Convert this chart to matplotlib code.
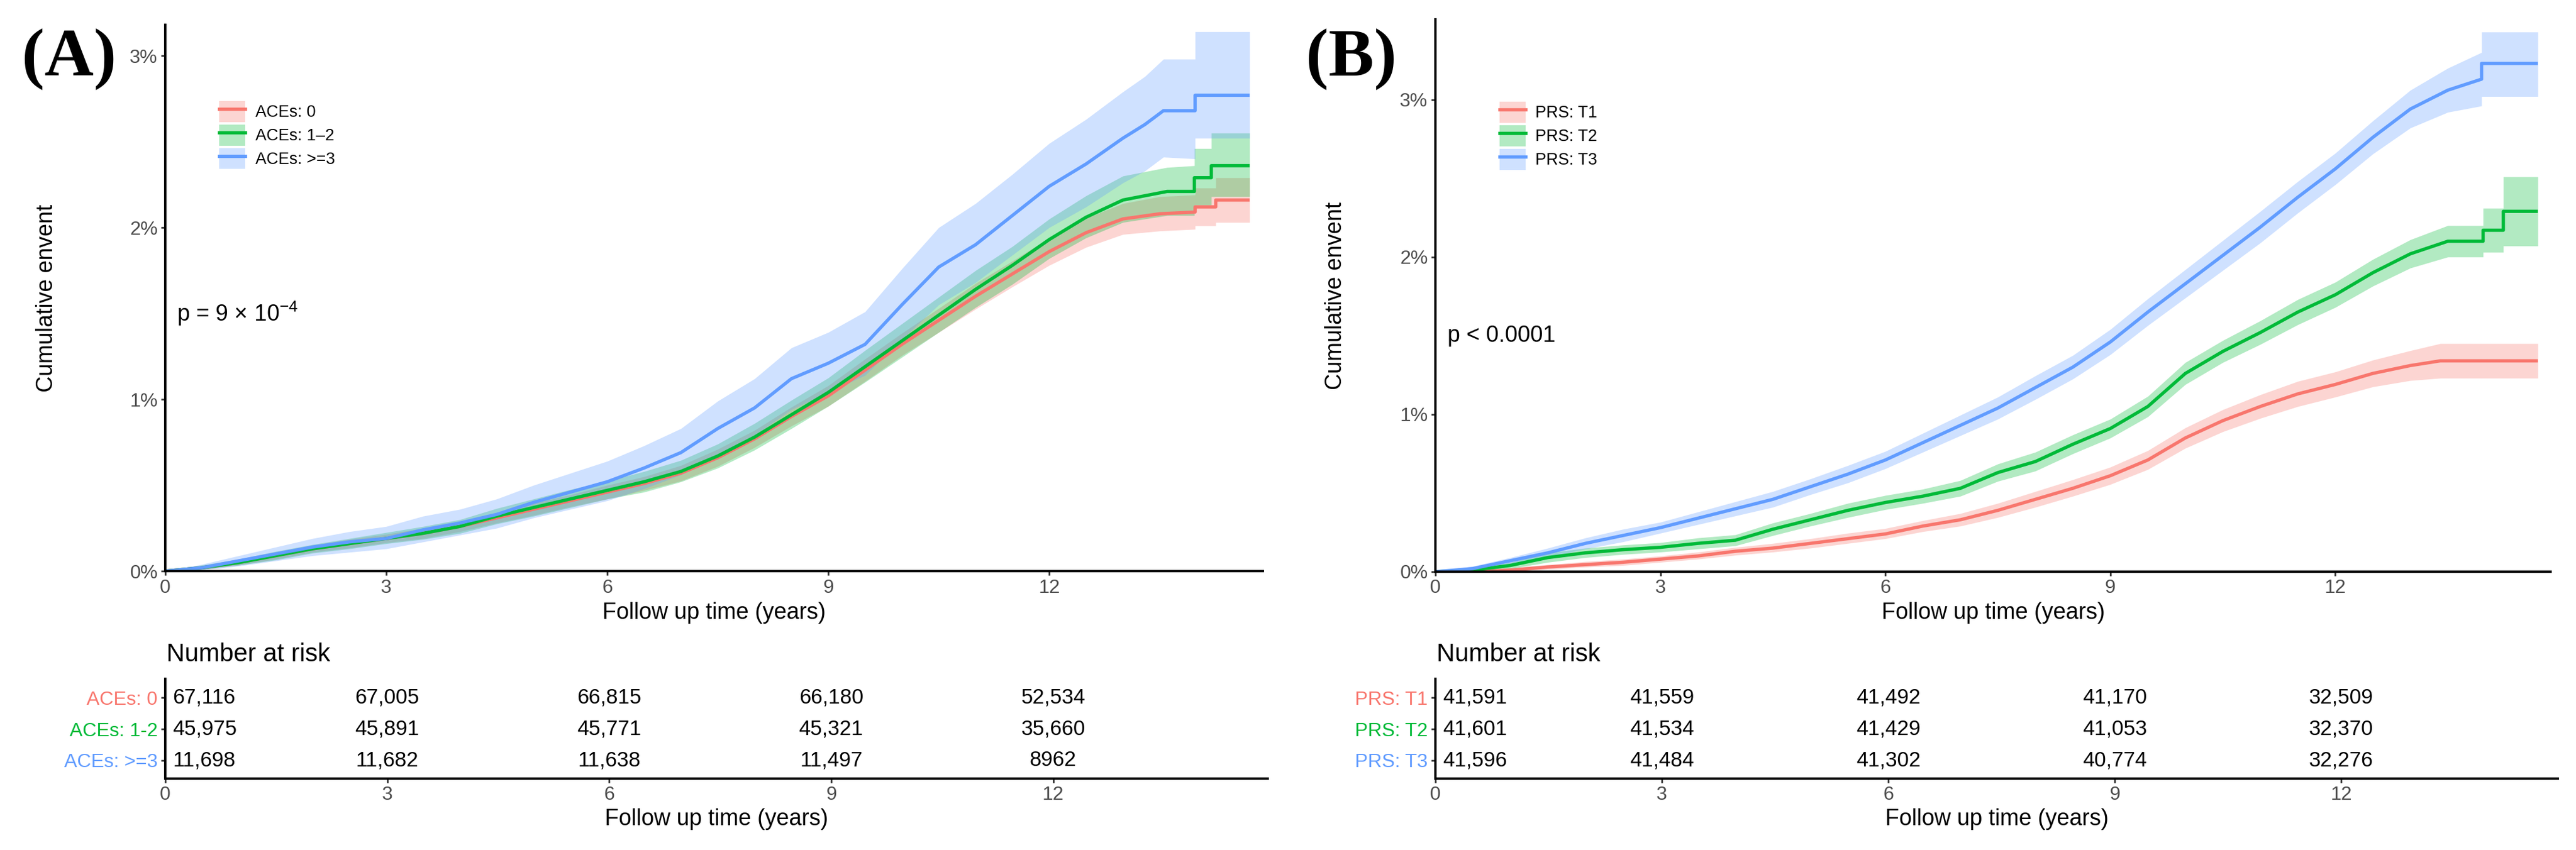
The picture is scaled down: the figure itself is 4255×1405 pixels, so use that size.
import matplotlib
matplotlib.use("Agg")
import matplotlib.pyplot as plt
from matplotlib.patches import Patch
from matplotlib.lines import Line2D
import matplotlib.transforms as mtransforms

plt.rcParams['font.family'] = ['Liberation Sans', 'DejaVu Sans']
plt.rcParams['mathtext.fontset'] = 'custom'
plt.rcParams['mathtext.rm'] = 'Liberation Sans'
plt.rcParams['mathtext.it'] = 'Liberation Sans:italic'
plt.rcParams['mathtext.bf'] = 'Liberation Sans:bold'

# ---------------- data ----------------
colors = ['#F8766D', '#00BA38', '#619CFF']
x_ticks = [0, 3, 6, 9, 12]
y_ticks = [0, 1, 2, 3]
y_tick_labels = ['0%', '1%', '2%', '3%']

base_t = [0, 0.5, 1, 1.5, 2, 2.5, 3, 3.5, 4, 4.5, 5, 5.5, 6, 6.5, 7, 7.5, 8, 8.5,
          9, 9.5, 10, 10.5, 11, 11.5, 12, 12.5, 13]

# Panel A: ACEs
A_labels = ['ACEs: 0', 'ACEs: 1\u20132', 'ACEs: >=3']
A_table_labels = ['ACEs: 0', 'ACEs: 1-2', 'ACEs: >=3']

A0_time = base_t + [13.5, 13.98, 13.98, 14.26, 14.26, 14.72]
A0_est = [0, .02, .05, .09, .13, .16, .19, .22, .26, .31, .36, .41, .46, .51, .57, .66, .77, .90,
          1.02, 1.17, 1.32, 1.46, 1.60, 1.73, 1.86, 1.97, 2.05, 2.08, 2.09, 2.12, 2.12, 2.16, 2.16]
A0_low = [0, .01, .035, .07, .11, .135, .165, .19, .23, .28, .325, .375, .42, .47, .525, .61, .72, .845,
          .96, 1.105, 1.255, 1.39, 1.525, 1.655, 1.78, 1.885, 1.96, 1.98, 1.99, 2.01, 2.01, 2.03, 2.03]
A0_up = [0, .03, .065, .11, .15, .185, .215, .25, .29, .34, .395, .445, .50, .55, .615, .71, .82, .955,
         1.08, 1.235, 1.385, 1.53, 1.675, 1.805, 1.94, 2.055, 2.14, 2.18, 2.19, 2.23, 2.23, 2.29, 2.29]

A1_time = base_t + [13.6, 13.97, 13.97, 14.2, 14.2, 14.72]
A1_est = [0, .02, .05, .09, .13, .16, .19, .22, .26, .32, .37, .42, .47, .52, .58, .67, .78, .91,
          1.04, 1.19, 1.34, 1.49, 1.64, 1.78, 1.93, 2.06, 2.16, 2.21, 2.21, 2.29, 2.29, 2.36, 2.36]
A1_low = [0, .01, .035, .065, .105, .13, .16, .185, .22, .275, .32, .37, .42, .46, .52, .60, .705, .83,
          .96, 1.10, 1.245, 1.39, 1.535, 1.67, 1.82, 1.94, 2.03, 2.07, 2.07, 2.13, 2.13, 2.18, 2.18]
A1_up = [0, .035, .07, .115, .155, .19, .225, .26, .30, .365, .42, .475, .525, .58, .645, .74, .86, .995,
         1.125, 1.285, 1.44, 1.595, 1.75, 1.89, 2.05, 2.185, 2.30, 2.35, 2.36, 2.46, 2.46, 2.55, 2.55]

A2_time = base_t + [13.3, 13.55, 13.98, 13.98, 14.72]
A2_est = [0, .02, .06, .10, .14, .17, .19, .24, .28, .33, .40, .46, .52, .60, .69, .83, .95, 1.12,
          1.21, 1.32, 1.55, 1.77, 1.90, 2.07, 2.24, 2.37, 2.52, 2.60, 2.68, 2.68, 2.77, 2.77]
A2_low = [0, .005, .03, .06, .09, .11, .13, .17, .21, .25, .31, .36, .41, .48, .56, .68, .79, .94,
          1.04, 1.14, 1.35, 1.55, 1.68, 1.84, 2.00, 2.12, 2.26, 2.33, 2.41, 2.40, 2.52, 2.52]
A2_up = [0, .04, .09, .14, .19, .23, .26, .32, .36, .42, .50, .57, .64, .73, .83, .99, 1.12, 1.30,
         1.39, 1.51, 1.76, 2.00, 2.14, 2.31, 2.49, 2.63, 2.79, 2.88, 2.98, 2.98, 3.14, 3.14]

A_risk = [[67116, 67005, 66815, 66180, 52534],
          [45975, 45891, 45771, 45321, 35660],
          [11698, 11682, 11638, 11497, 8962]]
A_p = 'p = 9 \u00d7 10$^{-4}$'

# Panel B: PRS
B_labels = ['PRS: T1', 'PRS: T2', 'PRS: T3']
B_table_labels = ['PRS: T1', 'PRS: T2', 'PRS: T3']

B0_time = base_t + [13.4, 14.7]
B0_est = [0, .00, .01, .03, .045, .06, .08, .10, .13, .15, .18, .21, .24, .29, .33, .39, .46, .53,
          .61, .71, .85, .96, 1.05, 1.13, 1.19, 1.26, 1.31, 1.34, 1.34]
B0_low = [0, .00, .00, .015, .03, .04, .06, .08, .105, .125, .15, .18, .21, .255, .29, .345, .41, .48,
          .555, .65, .785, .89, .975, 1.05, 1.11, 1.175, 1.215, 1.23, 1.23]
B0_up = [0, .01, .025, .045, .065, .08, .10, .125, .155, .18, .21, .245, .275, .325, .37, .435, .51, .585,
         .665, .77, .915, 1.03, 1.125, 1.21, 1.27, 1.345, 1.405, 1.45, 1.45]

B1_time = base_t + [13.5, 13.97, 13.97, 14.24, 14.24, 14.7]
B1_est = [0, .01, .04, .09, .12, .14, .155, .18, .20, .27, .33, .39, .44, .48, .53, .63, .70, .81,
          .91, 1.05, 1.26, 1.40, 1.52, 1.65, 1.76, 1.90, 2.02, 2.10, 2.10, 2.17, 2.17, 2.29, 2.29]
B1_low = [0, .00, .02, .06, .09, .11, .125, .145, .165, .23, .29, .345, .395, .435, .48, .575, .64, .75,
          .85, .985, 1.19, 1.33, 1.445, 1.57, 1.68, 1.815, 1.93, 2.00, 2.00, 2.03, 2.03, 2.07, 2.07]
B1_up = [0, .02, .06, .12, .15, .17, .185, .215, .235, .31, .37, .435, .485, .525, .58, .685, .76, .87,
         .97, 1.115, 1.33, 1.47, 1.595, 1.73, 1.84, 1.985, 2.11, 2.20, 2.20, 2.31, 2.31, 2.51, 2.51]

B2_time = base_t + [13.5, 13.95, 13.95, 14.7]
B2_est = [0, .02, .07, .12, .18, .23, .28, .34, .40, .46, .54, .62, .71, .82, .93, 1.04, 1.17, 1.30,
          1.46, 1.65, 1.83, 2.01, 2.19, 2.38, 2.56, 2.76, 2.94, 3.06, 3.13, 3.23, 3.23]
B2_low = [0, .005, .05, .09, .145, .19, .245, .30, .355, .41, .49, .565, .655, .76, .865, .97, 1.095, 1.225,
          1.38, 1.565, 1.74, 1.915, 2.09, 2.28, 2.46, 2.655, 2.82, 2.92, 2.96, 3.02, 3.02]
B2_up = [0, .035, .09, .15, .215, .27, .315, .38, .445, .51, .59, .675, .765, .88, .995, 1.11, 1.245, 1.375,
         1.54, 1.735, 1.92, 2.105, 2.29, 2.48, 2.66, 2.865, 3.06, 3.20, 3.30, 3.43, 3.43]

B_risk = [[41591, 41559, 41492, 41170, 32509],
          [41601, 41534, 41429, 41053, 32370],
          [41596, 41484, 41302, 40774, 32276]]
B_p = 'p < 0.0001'

# ---------------- figure ----------------
W, H = 4255, 1405
DPI = 100
fig = plt.figure(figsize=(W / DPI, H / DPI), dpi=DPI)
LW = 3.9


def rect(l, t, r, b):
    return [l / W, 1 - b / H, (r - l) / W, (b - t) / H]


def fmt(n):
    return f'{n:,}' if n >= 10000 else str(n)


def style_axes(ax):
    for s in ['top', 'right']:
        ax.spines[s].set_visible(False)
    for s in ['left', 'bottom']:
        ax.spines[s].set_linewidth(2.8)
        ax.spines[s].set_color('black')
    ax.tick_params(axis='both', length=5, width=2, color='#333333',
                   labelcolor='#4D4D4D', labelsize=23, pad=4)


def panel(main_rect, tab_rect, xmax, ymax, series, labels, tab_labels, risk, ptext,
          leg_xy, ylab_x, letter, letter_xy):
    ax = fig.add_axes(rect(*main_rect))
    for (t, est, lo, up), c in zip(series, colors):
        ax.fill_between(t, lo, up, color=c, alpha=0.3, lw=0)
        ax.plot(t, est, color=c, lw=LW, solid_capstyle='butt')
    ax.set_xlim(0, xmax)
    ax.set_ylim(0, ymax)
    ax.set_xticks(x_ticks)
    ax.set_yticks(y_ticks)
    ax.set_yticklabels(y_tick_labels)
    style_axes(ax)
    ax.set_xlabel('Follow up time (years)', fontsize=27, color='black')
    ax.xaxis.label.set_va('center')
    ax.xaxis.set_label_coords(0.5, -(1013 - main_rect[3]) / (main_rect[3] - main_rect[1]))
    ax.set_ylabel('Cumulative envent', fontsize=27, color='black')
    ax.yaxis.label.set_va('center')
    ax.yaxis.set_label_coords((ylab_x - main_rect[0]) / (main_rect[2] - main_rect[0]), 0.5)
    ax.text(0.16, 1.5, ptext, fontsize=27, va='center', ha='left', color='black')

    handles = [(Patch(facecolor=c, alpha=0.3, lw=0), Line2D([], [], color=c, lw=LW))
               for c in colors]
    ax.legend(handles, labels, loc='upper left', bbox_to_anchor=leg_xy, frameon=False,
              borderpad=0, borderaxespad=0, handlelength=1.6, handleheight=1.6,
              labelspacing=0.15, handletextpad=0.6, fontsize=19.5)

    # risk table
    at = fig.add_axes(rect(*tab_rect))
    at.set_xlim(0, xmax)
    at.set_ylim(0.42, 3.6)
    rows = [3, 2, 1]
    off = mtransforms.ScaledTranslation(12 / DPI, 0, fig.dpi_scale_trans)
    for r, vals in zip(rows, risk):
        for tt, v in zip(x_ticks, vals):
            if tt == 0:
                at.text(tt, r, fmt(v), ha='left', va='center', fontsize=25,
                        color='black', transform=at.transData + off)
            else:
                at.text(tt, r, fmt(v), ha='center', va='center', fontsize=25, color='black')
    at.set_xticks(x_ticks)
    at.set_yticks(rows)
    at.set_yticklabels(tab_labels)
    style_axes(at)
    for lab, c in zip(at.get_yticklabels(), colors):
        lab.set_color(c)
    at.set_xlabel('Follow up time (years)', fontsize=27, color='black')
    at.xaxis.label.set_va('center')
    at.xaxis.set_label_coords(0.5, -(1354 - tab_rect[3]) / (tab_rect[3] - tab_rect[1]))
    fig.text((tab_rect[0] + 2) / W, 1 - 1082 / H, 'Number at risk', fontsize=30,
             ha='left', va='center', color='black')

    fig.text(letter_xy[0] / W, 1 - letter_xy[1] / H, letter, fontsize=81,
             family=['Liberation Serif', 'DejaVu Serif'], weight='bold',
             ha='center', va='center', color='black')
    return ax


A_series = [(A0_time, A0_est, A0_low, A0_up),
            (A1_time, A1_est, A1_low, A1_up),
            (A2_time, A2_est, A2_low, A2_up)]
B_series = [(B0_time, B0_est, B0_low, B0_up),
            (B1_time, B1_est, B1_low, B1_up),
            (B2_time, B2_est, B2_low, B2_up)]

panel((273, 41, 2086, 944), (273, 1122, 2094, 1287), 14.9, 3.18, A_series,
      A_labels, A_table_labels, A_risk, A_p, (0.0491, 0.8605), 77, '(A)', (114, 97))
panel((2371, 32, 4213, 945), (2371, 1122, 4225, 1287), 14.87, 3.51, B_series,
      B_labels, B_table_labels, B_risk, B_p, (0.0575, 0.851), 2206, '(B)', (2232, 97))

fig.savefig('out.png', dpi=DPI, facecolor='white')
